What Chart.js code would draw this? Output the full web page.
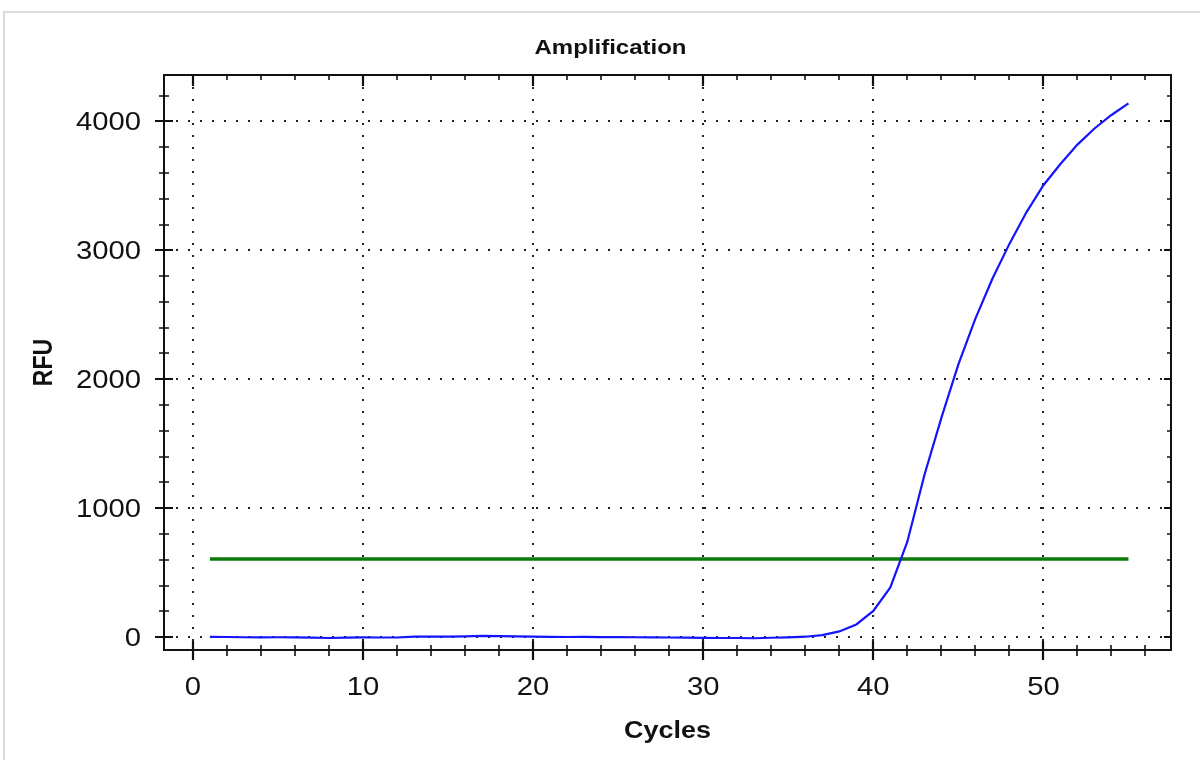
<!DOCTYPE html>
<html>
<head>
<meta charset="utf-8">
<script src="https://cdn.jsdelivr.net/npm/chart.js@4.4.1/dist/chart.umd.min.js"></script>
<style>
  html, body { margin: 0; padding: 0; background: #fff; overflow: hidden; }
  #wrap { position: relative; width: 1200px; height: 760px; }
  #frame { position: absolute; left: 3px; top: 11px; width: 1300px; height: 900px;
           border: 2px solid #dadada; box-sizing: border-box; }
  canvas { position: absolute; left: 0; top: 0; }
</style>
</head>
<body>
<div id="wrap">
  <div id="frame"></div>
  <canvas id="chart" width="1200" height="760"></canvas>
</div>
<script>
// Amplification run: fluorescence (RFU) per PCR cycle
const cycles = [1, 2, 3, 4, 5, 6, 7, 8, 9, 10, 11, 12, 13, 14, 15, 16, 17, 18, 19, 20,
                21, 22, 23, 24, 25, 26, 27, 28, 29, 30, 31, 32, 33, 34, 35, 36, 37, 38, 39, 40,
                41, 42, 43, 44, 45, 46, 47, 48, 49, 50, 51, 52, 53, 54, 55];
const rfu = [2, 1, -1, -2, -1, -2, -4, -7, -4, -2, -3, -3, 3, 4, 3, 5, 9, 8, 5, 3,
             2, 1, 2, 0, 1, -1, -2, -3, -4, -6, -7, -7, -9, -5, -2, 3, 16, 44, 98, 203,
             385, 740, 1255, 1700, 2115, 2470, 2780, 3050, 3295, 3505, 3670, 3820, 3945, 4050, 4140];

// Threshold line
const thresholdCycles = [1, 55];
const thresholdRfu = [605, 605];

// Axis ticks
const xTickValues = [0, 10, 20, 30, 40, 50];
const yTickValues = [0, 1000, 2000, 3000, 4000];
const xMinorStep = 2;
const yMinorStep = 200;

const titleText = 'Amplification';
const xTitleText = 'Cycles';
const yTitleText = 'RFU';

const FONT = "'Liberation Sans', Arial, Helvetica, sans-serif";
const STRETCH = 1.17;   // glyphs are drawn slightly wide

function drawText(ctx, text, x, y, font, align, rotated) {
  ctx.save();
  ctx.translate(x, y);
  if (rotated) {
    ctx.rotate(-Math.PI / 2);
    ctx.scale(1, STRETCH);
  } else {
    ctx.scale(STRETCH, 1);
  }
  ctx.font = font;
  ctx.textAlign = align;
  ctx.textBaseline = 'alphabetic';
  ctx.fillStyle = '#111';
  ctx.fillText(text, 0, 0);
  ctx.restore();
}

const axisDecor = {
  id: 'axisDecor',
  afterDraw(chart) {
    const ctx = chart.ctx;
    const a = chart.chartArea;
    const xs = chart.scales.x;
    const ys = chart.scales.y;

    ctx.save();
    ctx.strokeStyle = '#111';
    ctx.lineCap = 'butt';

    // frame
    ctx.lineWidth = 2;
    ctx.strokeRect(a.left, a.top, a.right - a.left, a.bottom - a.top);

    // x ticks (bottom crosses the axis, top points inward)
    for (let v = 0; v <= xs.max; v += xMinorStep) {
      const px = Math.round(xs.getPixelForValue(v));
      const major = xTickValues.includes(v);
      ctx.lineWidth = major ? 2.2 : 1.6;
      ctx.beginPath();
      if (major) {
        ctx.moveTo(px, a.bottom - 9); ctx.lineTo(px, a.bottom + 10);
        ctx.moveTo(px, a.top); ctx.lineTo(px, a.top + 11);
      } else {
        ctx.moveTo(px, a.bottom - 5); ctx.lineTo(px, a.bottom + 6);
        ctx.moveTo(px, a.top); ctx.lineTo(px, a.top + 5);
      }
      ctx.stroke();
    }

    // y ticks (left crosses the axis, right points inward)
    for (let v = 0; v <= ys.max; v += yMinorStep) {
      const py = Math.round(ys.getPixelForValue(v));
      const major = yTickValues.includes(v);
      ctx.lineWidth = major ? 2.2 : 1.6;
      ctx.beginPath();
      if (major) {
        ctx.moveTo(a.left - 9, py); ctx.lineTo(a.left + 9, py);
        ctx.moveTo(a.right, py); ctx.lineTo(a.right - 7, py);
      } else {
        ctx.moveTo(a.left - 5, py); ctx.lineTo(a.left + 5, py);
        ctx.moveTo(a.right, py); ctx.lineTo(a.right - 4, py);
      }
      ctx.stroke();
    }
    ctx.restore();

    // tick labels
    const tickFont = '25px ' + FONT;
    xTickValues.forEach(v => {
      drawText(ctx, String(v), xs.getPixelForValue(v), a.bottom + 45, tickFont, 'center', false);
    });
    yTickValues.forEach(v => {
      drawText(ctx, String(v), a.left - 23, ys.getPixelForValue(v) + 9, tickFont, 'right', false);
    });

    // titles
    drawText(ctx, titleText, (a.left + a.right) / 2 - 57, 54, 'bold 20.5px ' + FONT, 'center', false);
    drawText(ctx, xTitleText, (a.left + a.right) / 2, 738, 'bold 23px ' + FONT, 'center', false);
    drawText(ctx, yTitleText, 52, (a.top + a.bottom) / 2, 'bold 23px ' + FONT, 'center', true);
  }
};

const gridOpts = { color: '#222', lineWidth: 2, drawTicks: false };
const borderOpts = { display: false, dash: [2, 10] };

new Chart(document.getElementById('chart'), {
  type: 'line',
  data: {
    datasets: [
      {
        label: 'Threshold',
        data: thresholdCycles.map((c, i) => ({ x: c, y: thresholdRfu[i] })),
        borderColor: '#0b7a0b',
        borderWidth: 3.5,
        pointRadius: 0,
        tension: 0,
        order: 2
      },
      {
        label: 'RFU',
        data: cycles.map((c, i) => ({ x: c, y: rfu[i] })),
        borderColor: '#1414ff',
        borderWidth: 2.2,
        pointRadius: 0,
        tension: 0,
        order: 1
      }
    ]
  },
  options: {
    responsive: false,
    animation: false,
    devicePixelRatio: 1,
    layout: { padding: { left: 0, right: 29, top: 75, bottom: 0 } },
    plugins: {
      legend: { display: false },
      title: { display: false },
      tooltip: { enabled: false }
    },
    scales: {
      x: {
        type: 'linear',
        min: -1.7,
        max: 57.5,
        afterFit: s => { s.height = 110; },
        afterBuildTicks: s => { s.ticks = xTickValues.map(v => ({ value: v })); },
        ticks: { display: false },
        grid: gridOpts,
        border: borderOpts
      },
      y: {
        type: 'linear',
        min: -100,
        max: 4360,
        afterFit: s => { s.width = 164; },
        afterBuildTicks: s => { s.ticks = yTickValues.map(v => ({ value: v })); },
        ticks: { display: false },
        grid: gridOpts,
        border: borderOpts
      }
    }
  },
  plugins: [axisDecor]
});
</script>
</body>
</html>
